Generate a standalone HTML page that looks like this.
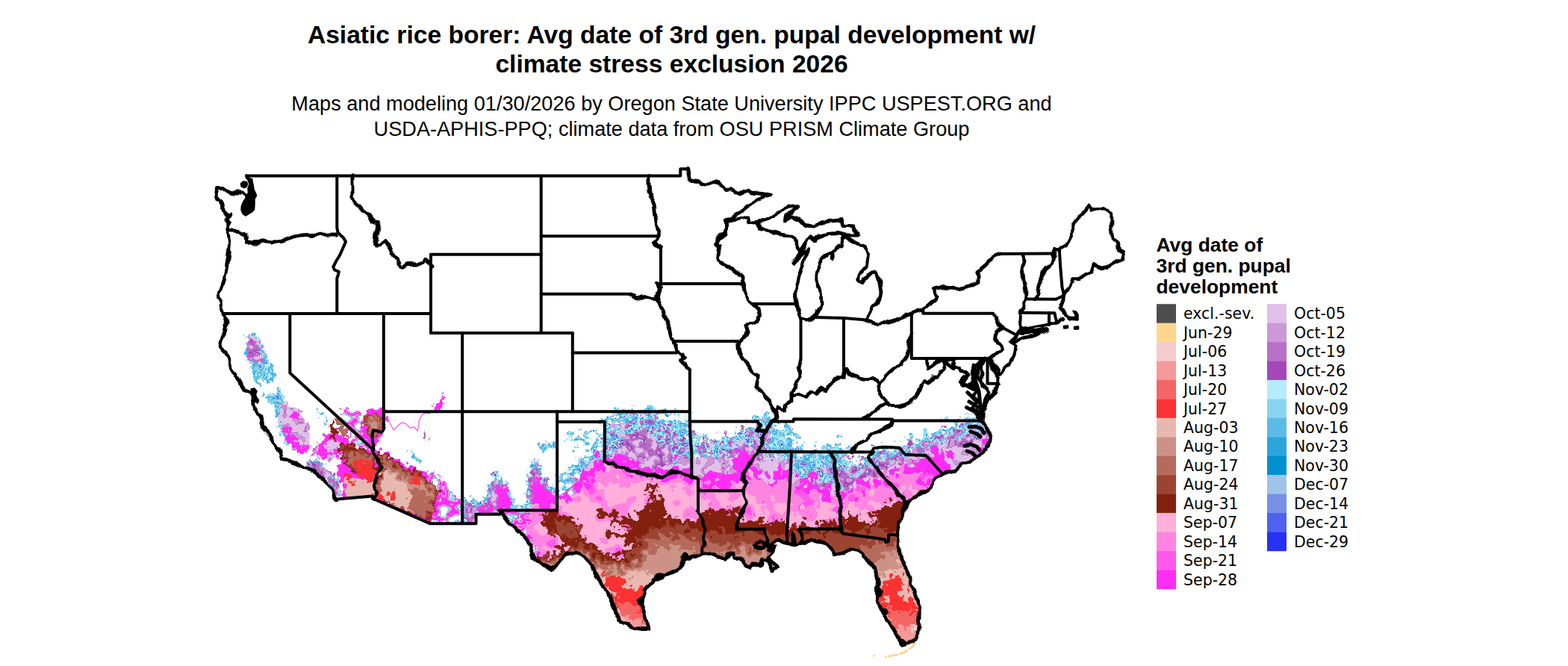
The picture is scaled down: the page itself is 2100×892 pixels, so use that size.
<!DOCTYPE html>
<html><head><meta charset="utf-8"><title>Asiatic rice borer</title>
<style>
html,body{margin:0;padding:0;background:#fff;}
body{width:2100px;height:892px;position:relative;overflow:hidden;font-family:"Liberation Sans",sans-serif;color:#000;}
.t{position:absolute;left:0;width:1799px;text-align:center;white-space:nowrap;}
#t1{top:26.5px;font-size:33.6px;font-weight:bold;line-height:39.4px;}
#t2{top:122.4px;font-size:27.15px;line-height:33.5px;}
#lt{position:absolute;left:1548.5px;top:315.3px;font-size:26.4px;font-weight:bold;line-height:27.8px;white-space:nowrap;}
svg{position:absolute;left:0;top:0;}
.lg{font-family:"DejaVu Sans","Liberation Sans",sans-serif;font-size:20.5px;fill:#000;}
</style></head><body>
<div class="t" id="t1">Asiatic rice borer: Avg date of 3rd gen. pupal development w/<br>climate stress exclusion 2026</div>
<div class="t" id="t2">Maps and modeling 01/30/2026 by Oregon State University IPPC USPEST.ORG and<br>USDA-APHIS-PPQ; climate data from OSU PRISM Climate Group</div>
<div id="lt">Avg date of<br>3rd gen. pupal<br>development</div>
<svg width="2100" height="892" viewBox="0 0 2100 892">
<defs>
<clipPath id="us"><polygon points="301.3,443.8 297.0,452.0 295.0,460.0 297.5,467.5 303.0,473.0 307.5,478.8 309.0,488.0 311.3,497.5 315.0,504.0 320.0,510.0 324.0,517.0 327.5,522.5 333.0,525.0 336.3,526.3 338.0,532.0 338.8,537.5 339.0,543.0 340.0,547.5 345.0,552.0 350.0,556.3 351.0,562.0 350.0,568.8 354.0,575.0 358.8,580.0 364.0,588.0 370.0,595.0 373.0,600.0 375.0,605.0 376.5,611.0 377.5,616.3 386.0,618.0 395.0,620.0 401.0,623.5 407.5,627.5 414.0,629.0 420.0,631.3 425.0,635.0 432.5,642.5 439.0,648.0 445.0,655.0 447.5,662.0 448.8,668.8 498.8,664.5 498.8,667.5 576.3,701.3 637.5,701.3 637.5,688.8 670.0,688.8 670.0,683.8 675.0,690.0 681.0,698.0 687.5,705.0 694.0,711.0 700.0,716.3 705.0,723.0 710.0,730.0 712.5,739.0 715.0,747.5 720.0,751.5 725.0,755.0 731.0,759.0 737.5,762.5 742.0,762.0 745.0,760.0 747.5,755.0 750.0,750.0 753.5,746.0 757.5,742.5 765.0,741.0 772.5,740.0 778.0,742.0 782.5,745.0 787.5,751.0 792.5,757.5 796.0,765.0 800.0,772.5 804.0,780.0 807.5,785.0 813.0,794.0 820.0,802.5 821.5,809.0 822.5,815.0 826.0,823.0 830.0,831.3 837.0,835.0 845.0,838.8 852.0,841.0 860.0,842.5 868.8,842.5 866.5,832.0 864.0,822.0 862.0,816.0 860.4,810.3 857.0,808.0 856.0,803.5 859.5,802.0 862.0,798.5 863.3,795.8 861.9,791.4 865.0,787.5 868.4,784.0 872.5,780.5 876.4,776.8 879.0,775.0 880.0,771.0 884.0,772.5 887.5,769.5 891.0,769.5 896.0,768.0 901.0,766.6 905.5,764.0 910.0,760.8 913.0,756.5 915.8,752.0 914.5,747.0 916.5,742.5 919.5,744.0 920.0,748.5 923.0,749.5 927.4,746.2 933.0,744.0 938.8,742.5 944.5,742.0 950.7,741.9 955.0,743.5 959.5,745.5 965.0,747.0 971.0,748.4 973.5,745.0 975.5,741.9 978.0,741.0 980.6,741.0 981.5,744.0 982.8,747.0 987.0,748.0 991.5,749.0 994.5,752.5 997.3,756.4 1000.0,758.5 1003.2,760.0 1005.5,757.0 1007.5,755.0 1011.0,755.2 1014.8,755.7 1019.2,757.9 1020.5,753.0 1022.0,749.0 1025.0,750.0 1028.0,751.3 1031.0,757.5 1033.8,763.7 1037.5,761.5 1041.0,758.6 1037.5,755.5 1033.8,752.8 1031.5,750.0 1029.4,747.7 1032.0,744.0 1035.2,740.4 1036.5,737.0 1038.0,733.0 1034.0,731.5 1030.0,730.0 1036.0,727.0 1042.5,725.0 1049.0,726.0 1055.0,727.5 1059.0,729.0 1062.5,730.0 1062.0,722.0 1062.5,715.0 1064.0,722.0 1065.0,730.0 1069.0,729.0 1072.5,727.5 1080.0,726.0 1087.5,725.0 1095.0,725.5 1102.5,726.3 1108.0,729.0 1112.5,732.5 1115.5,738.0 1117.5,743.8 1123.0,742.5 1130.0,740.0 1136.0,737.0 1142.5,735.0 1149.0,737.0 1155.0,740.0 1160.0,747.0 1165.0,755.0 1170.0,762.0 1173.8,767.5 1175.5,775.0 1175.0,782.5 1174.0,789.0 1173.8,795.0 1175.5,803.0 1177.5,810.0 1181.0,818.0 1185.0,825.0 1188.5,830.0 1192.5,835.0 1197.5,844.0 1202.5,852.5 1206.0,858.5 1208.8,863.8 1213.0,864.0 1217.5,862.5 1222.0,859.5 1226.3,855.0 1228.5,848.0 1230.0,840.0 1231.0,828.0 1231.3,815.0 1228.5,805.0 1225.0,795.0 1221.5,784.0 1217.5,772.5 1214.0,762.0 1210.0,752.5 1207.0,746.0 1205.0,740.0 1203.5,728.0 1202.5,716.3 1203.5,708.0 1205.0,700.0 1208.5,689.0 1212.5,677.5 1217.5,670.0 1224.0,666.0 1230.0,662.5 1239.0,657.5 1247.5,652.5 1250.5,647.0 1252.5,642.5 1260.0,637.0 1267.5,632.5 1274.0,631.0 1280.0,630.0 1285.0,625.0 1290.0,620.0 1297.0,617.5 1305.0,615.0 1309.0,611.0 1312.5,607.5 1319.0,602.5 1325.0,597.5 1326.0,591.0 1326.3,585.0 1324.5,580.0 1322.5,575.0 1318.5,569.0 1315.0,563.8 1316.0,557.0 1316.3,550.0 1312.0,530.0 1300.0,520.0 1250.0,500.0 330.0,440.0"/></clipPath>
<filter id="fCY" x="-3%" y="-3%" width="106%" height="106%" color-interpolation-filters="sRGB">
<feTurbulence type="fractalNoise" baseFrequency="0.09" numOctaves="3" seed="3" result="d"/>
<feDisplacementMap in="SourceGraphic" in2="d" scale="50" xChannelSelector="R" yChannelSelector="G" result="s"/>
<feTurbulence type="fractalNoise" baseFrequency="0.11" numOctaves="2" seed="8" result="n"/>
<feColorMatrix in="n" type="matrix" values="1 0 0 0 0 1 0 0 0 0 1 0 0 0 0 0 0 0 0 1" result="g"/>
<feComponentTransfer in="g" result="c"><feFuncR type="discrete" tableValues="1 1 1 1 1 1 1 1 1 1 1 1 1 1 1 0.173 0.173 0.706 0.706 0.706 0.706 0.533 0.533 0.533 0.533 0.353 0.353 0.353 0.353 0.173 0.173 0.533 0.533 0.706 0.706 0.706 0.157 0.722 0.722 0.722 0.722 0.722 0.722 0.722 0.722 0.722 0.722 0.722 0.722 0.722"/><feFuncG type="discrete" tableValues="1 1 1 1 1 1 1 1 1 1 1 1 1 1 1 0.643 0.643 0.925 0.925 0.925 0.925 0.831 0.831 0.831 0.831 0.737 0.737 0.737 0.737 0.643 0.643 0.831 0.831 0.925 0.925 0.925 0.188 0.439 0.439 0.439 0.439 0.439 0.439 0.439 0.439 0.439 0.439 0.439 0.439 0.439"/><feFuncB type="discrete" tableValues="1 1 1 1 1 1 1 1 1 1 1 1 1 1 1 0.863 0.863 0.988 0.988 0.988 0.988 0.941 0.941 0.941 0.941 0.894 0.894 0.894 0.894 0.863 0.863 0.941 0.941 0.988 0.988 0.988 0.957 0.784 0.784 0.784 0.784 0.784 0.784 0.784 0.784 0.784 0.784 0.784 0.784 0.784"/></feComponentTransfer>
<feComposite in="c" in2="s" operator="in"/>
</filter>
<filter id="fPU" x="-3%" y="-3%" width="106%" height="106%" color-interpolation-filters="sRGB">
<feTurbulence type="fractalNoise" baseFrequency="0.12" numOctaves="3" seed="11" result="d"/>
<feDisplacementMap in="SourceGraphic" in2="d" scale="60" xChannelSelector="R" yChannelSelector="G" result="s"/>
<feTurbulence type="fractalNoise" baseFrequency="0.1" numOctaves="2" seed="16" result="n"/>
<feColorMatrix in="n" type="matrix" values="1 0 0 0 0 1 0 0 0 0 1 0 0 0 0 0 0 0 0 1" result="g"/>
<feComponentTransfer in="g" result="c"><feFuncR type="discrete" tableValues="0.878 0.878 0.878 0.878 0.878 0.878 0.878 0.878 0.878 0.878 0.878 0.878 0.878 0.878 0.878 0.878 0.878 0.878 0.8 0.8 0.8 0.8 0.722 0.722 0.722 0.722 0.722 0.722 0.722 0.722 0.643 0.643 0.643 0.643 0.643 0.8 0.8 0.8 0.8 0.8 0.8 0.8 0.8 0.8 0.8 0.8 0.8 0.8 0.8 0.8"/><feFuncG type="discrete" tableValues="0.753 0.753 0.753 0.753 0.753 0.753 0.753 0.753 0.753 0.753 0.753 0.753 0.753 0.753 0.753 0.753 0.753 0.753 0.596 0.596 0.596 0.596 0.439 0.439 0.439 0.439 0.439 0.439 0.439 0.439 0.282 0.282 0.282 0.282 0.282 0.596 0.596 0.596 0.596 0.596 0.596 0.596 0.596 0.596 0.596 0.596 0.596 0.596 0.596 0.596"/><feFuncB type="discrete" tableValues="0.91 0.91 0.91 0.91 0.91 0.91 0.91 0.91 0.91 0.91 0.91 0.91 0.91 0.91 0.91 0.91 0.91 0.91 0.847 0.847 0.847 0.847 0.784 0.784 0.784 0.784 0.784 0.784 0.784 0.784 0.722 0.722 0.722 0.722 0.722 0.847 0.847 0.847 0.847 0.847 0.847 0.847 0.847 0.847 0.847 0.847 0.847 0.847 0.847 0.847"/></feComponentTransfer>
<feComposite in="c" in2="s" operator="in"/>
</filter>
<filter id="fP2" x="-3%" y="-3%" width="106%" height="106%" color-interpolation-filters="sRGB">
<feTurbulence type="fractalNoise" baseFrequency="0.07" numOctaves="3" seed="21" result="d"/>
<feDisplacementMap in="SourceGraphic" in2="d" scale="45" xChannelSelector="R" yChannelSelector="G" result="s"/>
<feTurbulence type="fractalNoise" baseFrequency="0.045" numOctaves="2" seed="26" result="n"/>
<feColorMatrix in="n" type="matrix" values="1 0 0 0 0 1 0 0 0 0 1 0 0 0 0 0 0 0 0 1" result="g"/>
<feComponentTransfer in="g" result="c"><feFuncR type="discrete" tableValues="1 1 1 1 1 1 1 1 1 1 1 1 1 1 1 1 1 1 1 1 1 1 1 1 1 1 1 1 1 1 1 1 1 1 1 1 1 1 1 1 1 1 1 1 1 1 1 1 1 1"/><feFuncG type="discrete" tableValues="0.345 0.345 0.345 0.345 0.345 0.345 0.345 0.345 0.345 0.345 0.345 0.345 0.345 0.345 0.345 0.345 0.345 0.345 0.518 0.518 0.518 0.518 0.518 0.518 0.518 0.518 0.518 0.518 0.518 0.518 0.518 0.518 0.518 0.69 0.69 0.69 0.69 0.69 0.69 0.69 0.69 0.69 0.69 0.69 0.69 0.69 0.69 0.69 0.69 0.69"/><feFuncB type="discrete" tableValues="0.925 0.925 0.925 0.925 0.925 0.925 0.925 0.925 0.925 0.925 0.925 0.925 0.925 0.925 0.925 0.925 0.925 0.925 0.886 0.886 0.886 0.886 0.886 0.886 0.886 0.886 0.886 0.886 0.886 0.886 0.886 0.886 0.886 0.855 0.855 0.855 0.855 0.855 0.855 0.855 0.855 0.855 0.855 0.855 0.855 0.855 0.855 0.855 0.855 0.855"/></feComponentTransfer>
<feComposite in="c" in2="s" operator="in"/>
</filter>
<filter id="fP1" x="-3%" y="-3%" width="106%" height="106%" color-interpolation-filters="sRGB">
<feTurbulence type="fractalNoise" baseFrequency="0.07" numOctaves="3" seed="31" result="d"/>
<feDisplacementMap in="SourceGraphic" in2="d" scale="55" xChannelSelector="R" yChannelSelector="G" result="s"/>
<feTurbulence type="fractalNoise" baseFrequency="0.04" numOctaves="2" seed="36" result="n"/>
<feColorMatrix in="n" type="matrix" values="1 0 0 0 0 1 0 0 0 0 1 0 0 0 0 0 0 0 0 1" result="g"/>
<feComponentTransfer in="g" result="c"><feFuncR type="discrete" tableValues="1 1 1 1 1 1 1 1 1 1 1 1 1 1 1 1 1 1 1 1 1 1 1 1 1 1 1 1 1 1 1 1 1 1 1 1 1 1 1 1 1 1 1 1 1 1 1 1 1 1"/><feFuncG type="discrete" tableValues="0.345 0.345 0.345 0.345 0.345 0.345 0.345 0.345 0.345 0.345 0.345 0.345 0.345 0.345 0.345 0.518 0.518 0.518 0.518 0.518 0.518 0.518 0.69 0.69 0.69 0.69 0.69 0.69 0.69 0.69 0.69 0.69 0.69 0.69 0.69 0.69 0.69 0.69 0.69 0.69 0.69 0.69 0.69 0.69 0.69 0.69 0.69 0.69 0.69 0.69"/><feFuncB type="discrete" tableValues="0.925 0.925 0.925 0.925 0.925 0.925 0.925 0.925 0.925 0.925 0.925 0.925 0.925 0.925 0.925 0.886 0.886 0.886 0.886 0.886 0.886 0.886 0.855 0.855 0.855 0.855 0.855 0.855 0.855 0.855 0.855 0.855 0.855 0.855 0.855 0.855 0.855 0.855 0.855 0.855 0.855 0.855 0.855 0.855 0.855 0.855 0.855 0.855 0.855 0.855"/></feComponentTransfer>
<feComposite in="c" in2="s" operator="in"/>
</filter>
<filter id="fCYw" x="-3%" y="-3%" width="106%" height="106%" color-interpolation-filters="sRGB">
<feTurbulence type="fractalNoise" baseFrequency="0.13" numOctaves="3" seed="4" result="d"/>
<feDisplacementMap in="SourceGraphic" in2="d" scale="20" xChannelSelector="R" yChannelSelector="G" result="s"/>
<feTurbulence type="fractalNoise" baseFrequency="0.13" numOctaves="2" seed="9" result="n"/>
<feColorMatrix in="n" type="matrix" values="1 0 0 0 0 1 0 0 0 0 1 0 0 0 0 0 0 0 0 1" result="g"/>
<feComponentTransfer in="g" result="c"><feFuncR type="discrete" tableValues="1 1 1 1 1 1 1 1 1 1 1 1 1 1 1 0.173 0.173 0.706 0.706 0.706 0.706 0.533 0.533 0.533 0.533 0.353 0.353 0.353 0.353 0.173 0.173 0.533 0.533 0.706 0.706 0.706 0.157 0.722 0.722 0.722 0.722 0.722 0.722 0.722 0.722 0.722 0.722 0.722 0.722 0.722"/><feFuncG type="discrete" tableValues="1 1 1 1 1 1 1 1 1 1 1 1 1 1 1 0.643 0.643 0.925 0.925 0.925 0.925 0.831 0.831 0.831 0.831 0.737 0.737 0.737 0.737 0.643 0.643 0.831 0.831 0.925 0.925 0.925 0.188 0.439 0.439 0.439 0.439 0.439 0.439 0.439 0.439 0.439 0.439 0.439 0.439 0.439"/><feFuncB type="discrete" tableValues="1 1 1 1 1 1 1 1 1 1 1 1 1 1 1 0.863 0.863 0.988 0.988 0.988 0.988 0.941 0.941 0.941 0.941 0.894 0.894 0.894 0.894 0.863 0.863 0.941 0.941 0.988 0.988 0.988 0.957 0.784 0.784 0.784 0.784 0.784 0.784 0.784 0.784 0.784 0.784 0.784 0.784 0.784"/></feComponentTransfer>
<feComposite in="c" in2="s" operator="in"/>
</filter>
<filter id="fPUw" x="-3%" y="-3%" width="106%" height="106%" color-interpolation-filters="sRGB">
<feTurbulence type="fractalNoise" baseFrequency="0.13" numOctaves="3" seed="12" result="d"/>
<feDisplacementMap in="SourceGraphic" in2="d" scale="20" xChannelSelector="R" yChannelSelector="G" result="s"/>
<feTurbulence type="fractalNoise" baseFrequency="0.12" numOctaves="2" seed="17" result="n"/>
<feColorMatrix in="n" type="matrix" values="1 0 0 0 0 1 0 0 0 0 1 0 0 0 0 0 0 0 0 1" result="g"/>
<feComponentTransfer in="g" result="c"><feFuncR type="discrete" tableValues="0.878 0.878 0.878 0.878 0.878 0.878 0.878 0.878 0.878 0.878 0.878 0.878 0.878 0.878 0.878 0.878 0.878 0.878 0.8 0.8 0.8 0.8 0.722 0.722 0.722 0.722 0.722 0.722 0.722 0.722 0.643 0.643 0.643 0.643 0.643 0.8 0.8 0.8 0.8 0.8 0.8 0.8 0.8 0.8 0.8 0.8 0.8 0.8 0.8 0.8"/><feFuncG type="discrete" tableValues="0.753 0.753 0.753 0.753 0.753 0.753 0.753 0.753 0.753 0.753 0.753 0.753 0.753 0.753 0.753 0.753 0.753 0.753 0.596 0.596 0.596 0.596 0.439 0.439 0.439 0.439 0.439 0.439 0.439 0.439 0.282 0.282 0.282 0.282 0.282 0.596 0.596 0.596 0.596 0.596 0.596 0.596 0.596 0.596 0.596 0.596 0.596 0.596 0.596 0.596"/><feFuncB type="discrete" tableValues="0.91 0.91 0.91 0.91 0.91 0.91 0.91 0.91 0.91 0.91 0.91 0.91 0.91 0.91 0.91 0.91 0.91 0.91 0.847 0.847 0.847 0.847 0.784 0.784 0.784 0.784 0.784 0.784 0.784 0.784 0.722 0.722 0.722 0.722 0.722 0.847 0.847 0.847 0.847 0.847 0.847 0.847 0.847 0.847 0.847 0.847 0.847 0.847 0.847 0.847"/></feComponentTransfer>
<feComposite in="c" in2="s" operator="in"/>
</filter>
<filter id="fRw" x="-3%" y="-3%" width="106%" height="106%" color-interpolation-filters="sRGB">
<feTurbulence type="fractalNoise" baseFrequency="0.13" numOctaves="3" seed="42" result="d"/>
<feDisplacementMap in="SourceGraphic" in2="d" scale="20" xChannelSelector="R" yChannelSelector="G"/>
</filter>
<filter id="fLVw" x="-3%" y="-3%" width="106%" height="106%" color-interpolation-filters="sRGB">
<feTurbulence type="fractalNoise" baseFrequency="0.13" numOctaves="3" seed="18" result="d"/>
<feDisplacementMap in="SourceGraphic" in2="d" scale="20" xChannelSelector="R" yChannelSelector="G" result="s"/>
<feTurbulence type="fractalNoise" baseFrequency="0.1" numOctaves="2" seed="23" result="n"/>
<feColorMatrix in="n" type="matrix" values="1 0 0 0 0 1 0 0 0 0 1 0 0 0 0 0 0 0 0 1" result="g"/>
<feComponentTransfer in="g" result="c"><feFuncR type="discrete" tableValues="0.8 0.8 0.8 0.8 0.8 0.8 0.8 0.8 0.8 0.8 0.8 0.8 0.8 0.8 0.8 0.8 0.8 0.8 0.8 0.8 0.722 0.722 0.722 0.878 0.878 0.878 0.878 0.878 0.878 0.878 0.878 0.878 0.878 0.878 0.878 0.878 0.878 0.878 0.878 0.878 0.878 0.878 0.878 0.878 0.878 0.878 0.878 0.878 0.878 0.878"/><feFuncG type="discrete" tableValues="0.596 0.596 0.596 0.596 0.596 0.596 0.596 0.596 0.596 0.596 0.596 0.596 0.596 0.596 0.596 0.596 0.596 0.596 0.596 0.596 0.439 0.439 0.439 0.753 0.753 0.753 0.753 0.753 0.753 0.753 0.753 0.753 0.753 0.753 0.753 0.753 0.753 0.753 0.753 0.753 0.753 0.753 0.753 0.753 0.753 0.753 0.753 0.753 0.753 0.753"/><feFuncB type="discrete" tableValues="0.847 0.847 0.847 0.847 0.847 0.847 0.847 0.847 0.847 0.847 0.847 0.847 0.847 0.847 0.847 0.847 0.847 0.847 0.847 0.847 0.784 0.784 0.784 0.91 0.91 0.91 0.91 0.91 0.91 0.91 0.91 0.91 0.91 0.91 0.91 0.91 0.91 0.91 0.91 0.91 0.91 0.91 0.91 0.91 0.91 0.91 0.91 0.91 0.91 0.91"/></feComponentTransfer>
<feComposite in="c" in2="s" operator="in"/>
</filter>
<filter id="fBw" x="-3%" y="-3%" width="106%" height="106%" color-interpolation-filters="sRGB">
<feTurbulence type="fractalNoise" baseFrequency="0.13" numOctaves="3" seed="52" result="d"/>
<feDisplacementMap in="SourceGraphic" in2="d" scale="20" xChannelSelector="R" yChannelSelector="G"/>
</filter>
<filter id="fSTw" x="-3%" y="-3%" width="106%" height="106%" color-interpolation-filters="sRGB">
<feTurbulence type="fractalNoise" baseFrequency="0.13" numOctaves="3" seed="14" result="d"/>
<feDisplacementMap in="SourceGraphic" in2="d" scale="20" xChannelSelector="R" yChannelSelector="G" result="s"/>
<feTurbulence type="fractalNoise" baseFrequency="0.09" numOctaves="1" seed="19" result="n"/>
<feColorMatrix in="n" type="matrix" values="1 0 0 0 0 1 0 0 0 0 1 0 0 0 0 0 0 0 0 1" result="g"/>
<feComponentTransfer in="g" result="c"><feFuncR type="discrete" tableValues="1 1 1 1 1 1 1 1 1 1 1 1 1 1 1 1 1 1 0.353 0.706 0.706 0.722 0.722 0.878 0.878 1 1 1 1 1 1 1 1 1 1 0.878 0.706 0.706 1 1 1 1 1 1 1 1 1 1 1 1"/><feFuncG type="discrete" tableValues="1 1 1 1 1 1 1 1 1 1 1 1 1 1 1 1 1 1 0.737 0.925 0.925 0.439 0.439 0.753 0.753 0.173 0.173 0.173 0.173 0.173 0.518 0.518 0.518 0.173 0.173 0.753 0.925 0.925 1 1 1 1 1 1 1 1 1 1 1 1"/><feFuncB type="discrete" tableValues="1 1 1 1 1 1 1 1 1 1 1 1 1 1 1 1 1 1 0.894 0.988 0.988 0.784 0.784 0.91 0.91 0.965 0.965 0.965 0.965 0.965 0.886 0.886 0.886 0.965 0.965 0.91 0.988 0.988 1 1 1 1 1 1 1 1 1 1 1 1"/></feComponentTransfer>
<feComposite in="c" in2="s" operator="in"/>
</filter>
<filter id="fCYs" x="-3%" y="-3%" width="106%" height="106%" color-interpolation-filters="sRGB">
<feTurbulence type="fractalNoise" baseFrequency="0.09" numOctaves="3" seed="8" result="d"/>
<feDisplacementMap in="SourceGraphic" in2="d" scale="50" xChannelSelector="R" yChannelSelector="G" result="s"/>
<feTurbulence type="fractalNoise" baseFrequency="0.11" numOctaves="2" seed="13" result="n"/>
<feColorMatrix in="n" type="matrix" values="1 0 0 0 0 1 0 0 0 0 1 0 0 0 0 1 0 0 0 0" result="g"/>
<feComponentTransfer in="g" result="c"><feFuncR type="discrete" tableValues="1 1 1 1 1 1 1 1 1 1 1 1 1 1 1 1 1 1 1 1 0.173 0.706 0.706 0.706 0.706 0.533 0.533 0.353 0.353 0.157 1 1 1 1 1 1 1 1 1 1 1 1 1 1 1 1 1 1 1 1"/><feFuncG type="discrete" tableValues="1 1 1 1 1 1 1 1 1 1 1 1 1 1 1 1 1 1 1 1 0.643 0.925 0.925 0.925 0.925 0.831 0.831 0.737 0.737 0.188 1 1 1 1 1 1 1 1 1 1 1 1 1 1 1 1 1 1 1 1"/><feFuncB type="discrete" tableValues="1 1 1 1 1 1 1 1 1 1 1 1 1 1 1 1 1 1 1 1 0.863 0.988 0.988 0.988 0.988 0.941 0.941 0.894 0.894 0.957 1 1 1 1 1 1 1 1 1 1 1 1 1 1 1 1 1 1 1 1"/><feFuncA type="discrete" tableValues="0 0 0 0 0 0 0 0 0 0 0 0 0 0 0 0 0 0 0 0 1 1 1 1 1 1 1 1 1 1 0 0 0 0 0 0 0 0 0 0 0 0 0 0 0 0 0 0 0 0"/></feComponentTransfer>
<feComposite in="c" in2="s" operator="in"/>
</filter>
<filter id="fLV" x="-3%" y="-3%" width="106%" height="106%" color-interpolation-filters="sRGB">
<feTurbulence type="fractalNoise" baseFrequency="0.07" numOctaves="3" seed="17" result="d"/>
<feDisplacementMap in="SourceGraphic" in2="d" scale="45" xChannelSelector="R" yChannelSelector="G" result="s"/>
<feTurbulence type="fractalNoise" baseFrequency="0.09" numOctaves="2" seed="22" result="n"/>
<feColorMatrix in="n" type="matrix" values="1 0 0 0 0 1 0 0 0 0 1 0 0 0 0 0 0 0 0 1" result="g"/>
<feComponentTransfer in="g" result="c"><feFuncR type="discrete" tableValues="0.8 0.8 0.8 0.8 0.8 0.8 0.8 0.8 0.8 0.8 0.8 0.8 0.8 0.8 0.8 0.8 0.8 0.8 0.8 0.8 0.8 0.722 0.722 0.878 0.878 0.878 0.878 0.878 0.878 0.878 0.878 0.878 0.878 0.878 0.878 0.878 0.878 0.878 0.878 0.878 0.878 0.878 0.878 0.878 0.878 0.878 0.878 0.878 0.878 0.878"/><feFuncG type="discrete" tableValues="0.596 0.596 0.596 0.596 0.596 0.596 0.596 0.596 0.596 0.596 0.596 0.596 0.596 0.596 0.596 0.596 0.596 0.596 0.596 0.596 0.596 0.439 0.439 0.753 0.753 0.753 0.753 0.753 0.753 0.753 0.753 0.753 0.753 0.753 0.753 0.753 0.753 0.753 0.753 0.753 0.753 0.753 0.753 0.753 0.753 0.753 0.753 0.753 0.753 0.753"/><feFuncB type="discrete" tableValues="0.847 0.847 0.847 0.847 0.847 0.847 0.847 0.847 0.847 0.847 0.847 0.847 0.847 0.847 0.847 0.847 0.847 0.847 0.847 0.847 0.847 0.784 0.784 0.91 0.91 0.91 0.91 0.91 0.91 0.91 0.91 0.91 0.91 0.91 0.91 0.91 0.91 0.91 0.91 0.91 0.91 0.91 0.91 0.91 0.91 0.91 0.91 0.91 0.91 0.91"/></feComponentTransfer>
<feComposite in="c" in2="s" operator="in"/>
</filter>
<filter id="fR" x="-3%" y="-3%" width="106%" height="106%" color-interpolation-filters="sRGB">
<feTurbulence type="fractalNoise" baseFrequency="0.07" numOctaves="3" seed="41" result="d"/>
<feDisplacementMap in="SourceGraphic" in2="d" scale="45" xChannelSelector="R" yChannelSelector="G"/>
</filter>
<filter id="fB" x="-3%" y="-3%" width="106%" height="106%" color-interpolation-filters="sRGB">
<feTurbulence type="fractalNoise" baseFrequency="0.11" numOctaves="3" seed="51" result="d"/>
<feDisplacementMap in="SourceGraphic" in2="d" scale="32" xChannelSelector="R" yChannelSelector="G"/>
</filter>
</defs>
<g clip-path="url(#us)">
<g filter="url(#fCY)" fill="#88D4F0">
<polygon points="810.0,562.0 814.0,556.0 841.0,548.4 874.5,548.4 900.0,557.0 922.0,562.0 925.0,588.8 958.6,590.5 984.0,585.4 1000.7,570.3 1017.5,558.5 1025.0,555.0 1033.6,562.0 1033.6,568.6 1062.0,572.0 1065.6,597.0 1066.0,604.0 1104.0,603.0 1117.7,597.0 1129.5,592.0 1133.0,604.0 1134.5,622.4 1159.8,619.0 1164.8,612.3 1168.0,607.0 1180.0,600.5 1205.0,600.0 1203.5,593.8 1227.0,588.8 1248.9,583.7 1252.3,577.0 1269.0,573.6 1272.5,565.2 1294.3,568.6 1301.0,553.5 1318.0,549.0 1318.0,700.0 810.0,700.0"/>
<polygon points="757.0,592.0 765.0,586.0 779.0,580.0 795.0,578.0 809.0,580.0 809.0,592.0 800.0,596.0 797.0,590.0 785.0,587.0 772.0,591.0 762.0,596.0"/>
<polygon points="746.5,640.0 760.0,631.0 775.0,621.0 788.0,611.0 799.0,598.0 809.0,592.0 812.0,610.0 800.0,625.0 780.0,645.0 760.0,660.0 746.5,668.0"/>
</g>
<g filter="url(#fCYw)" fill="#88D4F0">
<polygon points="718.0,597.0 726.0,592.0 738.0,593.0 746.0,596.0 746.0,603.0 736.0,601.0 727.0,603.0"/>
<polygon points="746.3,650.0 740.0,651.0 733.0,647.0 727.0,634.0 722.0,622.0 717.0,611.0 712.0,620.0 707.0,633.0 705.0,645.0 706.0,660.0 708.0,670.0 712.0,683.8 746.3,683.8"/>
<polygon points="620.0,663.0 628.0,668.0 636.0,674.0 645.0,671.0 651.0,667.0 653.0,655.0 657.0,645.0 664.0,633.0 670.0,640.0 676.0,646.0 681.0,652.0 685.0,662.0 688.0,674.0 695.0,677.0 701.0,678.0 705.0,672.0 708.0,668.0 710.0,683.8 670.0,683.8 670.0,689.0 637.5,689.0 637.5,701.0 620.0,701.0"/>
<polygon points="672.0,686.0 690.0,698.0 705.0,713.0 716.0,733.0 724.0,752.0 740.0,760.0 745.0,757.0 730.0,745.0 722.0,728.0 712.0,710.0 698.0,696.0 684.0,686.0"/>
<polygon points="335.2,482.0 336.0,491.0 338.6,498.9 341.0,507.0 345.3,515.7 350.0,512.0 353.7,510.6 360.0,512.0 367.2,510.6 366.0,500.0 363.8,490.5 360.0,485.0 355.4,480.4 347.0,480.4 341.0,484.0"/>
<polygon points="350.4,525.8 355.0,533.0 360.5,541.0 365.0,549.0 370.5,557.7 373.0,566.0 376.0,577.0 380.0,587.0 385.0,595.0 390.0,590.0 384.0,570.0 385.7,551.0 384.0,542.0 382.3,534.2 378.0,528.0 373.9,524.1 363.8,525.8 357.0,523.0"/>
<polygon points="337.7,446.0 330.0,456.0 328.0,466.0 330.0,477.0 334.0,484.0 344.0,489.0 353.0,488.0 359.0,484.0 355.0,476.0 352.0,469.0 350.0,461.0 349.0,454.0 343.0,448.0"/>
<polygon points="570.0,632.0 582.0,637.0 594.0,648.0 603.0,658.0 612.0,665.0 620.0,672.0 620.0,695.0 612.0,699.0 598.0,693.0 589.0,682.0 587.0,668.0 583.0,656.0 575.0,646.0"/>
<polygon points="548.0,606.0 553.0,604.0 560.0,612.0 563.0,622.0 558.0,618.0 552.0,612.0"/>
<polygon points="412.0,618.0 422.0,615.0 433.0,621.0 442.0,630.0 450.0,638.0 457.0,649.0 458.0,664.0 449.0,668.0 444.0,656.0 438.0,648.0 430.0,642.0 422.0,636.0 414.0,630.0"/>
<polygon points="425.5,550.0 428.0,549.0 441.0,567.0 439.0,569.0"/>
</g>
<g filter="url(#fPU)" fill="#B870C8">
<polygon points="746.5,668.0 760.0,658.0 775.0,645.0 790.0,628.0 800.0,612.0 810.0,600.0 814.0,595.5 834.0,565.0 845.0,558.0 857.7,556.8 875.0,563.0 891.4,573.6 908.2,587.1 923.3,590.5 928.4,593.8 975.5,595.5 992.3,587.1 1009.0,577.0 1022.0,567.0 1026.0,575.0 1025.2,587.0 1027.0,607.3 1058.9,614.0 1063.9,634.2 1094.2,634.2 1109.3,627.5 1121.0,619.0 1134.5,624.0 1159.8,624.0 1168.0,612.3 1185.0,614.0 1210.0,607.3 1213.6,598.9 1235.5,593.8 1252.3,587.0 1277.5,578.7 1299.4,575.3 1319.5,573.6 1332.0,573.0 1332.0,720.0 746.5,720.0"/>
</g>
<g filter="url(#fPUw)" fill="#B870C8">
<polygon points="713.0,683.8 709.0,668.0 708.0,652.0 711.0,636.0 717.0,620.0 722.0,632.0 727.0,642.0 733.0,652.0 746.3,657.0 746.3,683.8"/>
<polygon points="640.0,684.0 646.0,676.0 652.0,671.0 656.0,656.0 660.0,646.0 664.0,640.0 670.0,646.0 677.0,654.0 682.0,664.0 686.0,683.8 670.0,683.8 670.0,689.0 637.5,689.0 637.5,701.0 624.0,701.0 624.0,670.0 632.0,674.0"/>
<polygon points="337.7,448.4 332.0,456.0 330.2,465.2 332.0,475.0 335.2,482.0 343.6,487.0 352.0,486.0 357.0,483.7 353.0,476.0 350.4,470.3 348.0,462.0 347.0,455.0 342.0,450.0"/>
<polygon points="414.0,620.0 422.0,618.0 432.0,624.0 440.0,632.0 448.0,640.0 454.0,650.0 455.0,662.0 450.0,666.0 446.0,655.0 440.0,646.0 432.0,640.0 424.0,634.0 416.0,628.0"/>
<polygon points="566.0,578.0 569.0,576.0 572.0,583.0 573.0,590.0 569.0,588.0"/>
<polygon points="676.0,690.0 690.0,701.0 703.0,714.0 713.0,733.0 720.0,748.0 716.0,749.0 706.0,733.0 696.0,716.0 684.0,703.0"/>
</g>
<g filter="url(#fCYs)" fill="#88D4F0">
<polygon points="810.0,600.0 814.0,595.5 834.0,565.0 845.0,558.0 857.7,556.8 875.0,563.0 891.4,573.6 908.2,587.1 923.3,590.5 928.4,593.8 975.5,595.5 992.3,587.1 1009.0,577.0 1022.0,567.0 1026.0,575.0 1025.2,587.0 1027.0,607.3 1058.9,614.0 1063.9,634.2 1094.2,634.2 1109.3,627.5 1121.0,619.0 1134.5,624.0 1159.8,624.0 1168.0,612.3 1185.0,614.0 1210.0,607.3 1213.6,598.9 1235.5,593.8 1252.3,587.0 1277.5,578.7 1299.4,575.3 1319.5,573.6 1332.0,573.0 1332.0,579.0 1319.5,579.6 1299.4,581.3 1277.5,584.7 1252.3,593.0 1235.5,599.8 1213.6,604.9 1210.0,613.3 1185.0,620.0 1168.0,618.3 1159.8,630.0 1134.5,630.0 1121.0,625.0 1109.3,633.5 1094.2,648.2 1063.9,648.2 1058.9,628.0 1027.0,621.3 1025.2,601.0 1026.0,589.0 1022.0,581.0 1009.0,591.0 992.3,601.1 975.5,609.5 928.4,615.8 923.3,612.5 908.2,609.1 891.4,595.6 875.0,585.0 857.7,578.8 845.0,580.0 834.0,587.0 814.0,617.5 810.0,622.0"/>
</g>
<g filter="url(#fCY)" fill="#88D4F0">
<polygon points="905.0,612.0 915.0,607.0 930.0,606.0 945.0,608.0 958.0,612.0 964.0,620.0 955.0,627.0 940.0,626.0 925.0,624.0 912.0,622.0"/>
<polygon points="1104.0,652.0 1108.0,642.0 1116.0,636.0 1124.0,634.0 1128.0,638.0 1122.0,646.0 1114.0,654.0 1108.0,656.0"/>
<polygon points="1066.0,606.0 1100.0,606.0 1103.0,612.0 1098.0,622.0 1090.0,630.0 1075.0,632.0 1066.0,628.0"/>
</g>
<g filter="url(#fLV)" fill="#E0C0E8">
<polygon points="746.5,672.0 773.6,647.0 790.5,627.0 810.6,609.0 841.0,611.5 866.0,620.0 891.4,618.5 908.0,612.0 925.0,614.0 967.0,614.0 992.3,608.0 1000.0,599.0 1010.0,614.0 1016.8,629.0 1030.0,635.0 1038.0,625.0 1042.0,614.0 1055.5,619.0 1063.9,639.3 1084.0,637.6 1100.9,649.4 1117.7,657.8 1134.5,656.0 1151.4,644.3 1168.2,635.9 1185.0,629.0 1201.8,619.0 1218.6,614.0 1235.5,607.3 1248.9,595.5 1262.0,597.0 1275.0,600.0 1290.0,598.0 1305.0,596.0 1320.0,586.0 1332.0,584.0 1332.0,720.0 746.5,720.0"/>
</g>
<g filter="url(#fLVw)" fill="#E0C0E8">
<polygon points="375.6,544.3 374.0,555.0 373.9,564.5 377.0,575.0 380.6,584.6 385.0,592.0 392.0,600.0 400.0,606.0 410.0,607.0 416.0,600.0 414.0,585.0 412.6,567.8 408.0,560.0 404.2,554.4 397.0,548.0 390.7,544.3 386.0,538.0 382.3,535.9"/>
<polygon points="421.0,598.0 430.0,594.0 440.0,596.0 448.0,602.0 452.0,610.0 446.0,616.0 436.0,616.0 428.0,612.0 420.0,606.0"/>
</g>
<g filter="url(#fR)" fill="#FF2CF6">
<polygon points="746.5,676.0 773.6,652.0 786.0,637.0 788.0,620.0 810.6,611.0 827.5,611.0 847.6,616.0 864.5,625.0 891.4,625.0 908.2,628.0 925.0,634.2 950.2,639.2 975.5,630.8 983.9,610.6 988.9,602.2 1000.0,604.0 1010.0,619.0 1016.8,634.0 1030.0,640.0 1038.0,630.0 1042.0,619.0 1055.5,624.0 1063.9,644.3 1084.0,642.6 1100.9,654.4 1117.7,662.8 1134.5,661.0 1151.4,649.3 1168.2,640.9 1185.0,634.0 1201.8,624.0 1218.6,619.0 1235.5,612.3 1248.9,600.5 1262.4,602.2 1269.0,613.0 1276.0,622.0 1284.0,634.0 1284.0,720.0 746.5,720.0"/>
</g>
<g filter="url(#fRw)" fill="#FF2CF6">
<polygon points="713.0,683.8 712.0,660.0 714.0,645.0 718.0,636.0 722.0,645.0 728.0,655.0 737.0,660.0 746.3,664.0 746.3,683.8"/>
<polygon points="662.0,683.8 664.0,665.0 668.0,652.0 672.0,648.0 678.0,656.0 683.0,668.0 686.0,683.8"/>
<polygon points="640.0,684.0 645.0,678.0 655.0,676.0 662.0,683.0 655.0,689.0 640.0,689.0"/>
<polygon points="392.0,551.0 400.0,553.0 404.0,560.0 402.0,565.0 395.0,563.0 391.0,557.0"/>
<polygon points="380.6,571.0 386.0,574.0 392.0,582.0 398.0,592.0 408.0,598.0 414.0,604.0 405.0,607.0 395.0,603.0 387.0,595.0 382.0,585.0"/>
<polygon points="335.0,456.0 339.0,455.0 340.0,460.0 336.0,461.0"/>
<polygon points="334.0,473.0 338.0,472.0 339.0,477.0 335.0,478.0"/>
<polygon points="432.0,590.0 438.0,580.0 448.0,577.0 458.0,580.0 466.0,588.0 470.0,598.0 462.0,606.0 450.0,610.0 440.0,612.0 430.0,612.0 421.0,606.0 426.0,598.0"/>
<polygon points="486.0,554.0 500.0,549.0 511.0,547.0 518.0,553.0 516.0,566.0 511.0,580.0 507.0,590.0 499.0,598.0 493.0,594.0 488.0,586.0 484.0,576.0 482.0,566.0"/>
<polygon points="578.0,549.0 584.0,542.0 589.0,535.0 592.0,527.0 594.0,536.0 592.0,546.0 585.0,550.0"/>
<polygon points="499.0,602.0 503.0,603.0 520.0,608.0 535.0,618.0 552.0,627.0 566.0,632.0 575.0,639.0 589.0,655.0 590.0,664.0 587.0,689.0 577.0,703.0 498.0,669.0 458.0,670.0 457.0,650.0 452.0,630.0 454.0,612.0 470.0,603.0"/>
</g>
<g filter="url(#fR)" fill="#FF2CF6">
<polygon points="1303.0,612.0 1312.0,600.0 1322.0,591.0 1332.0,588.0 1332.0,606.0 1318.0,616.0"/>
</g>
<g filter="url(#fR)" fill="#E0C0E8">
<polygon points="1024.0,615.0 1040.0,614.0 1042.0,630.0 1036.0,645.0 1026.0,647.0 1020.0,632.0"/>
</g>
<g filter="url(#fRw)" fill="#E0C0E8">
<polygon points="436.0,592.0 446.0,588.0 456.0,592.0 458.0,600.0 448.0,605.0 438.0,604.0"/>
<polygon points="690.0,703.0 700.0,712.0 708.0,726.0 714.0,740.0 711.0,741.0 703.0,727.0 695.0,715.0"/>
</g>
<g filter="url(#fSTw)" fill="#FF2CF6">
<polygon points="570.0,632.0 582.0,637.0 594.0,648.0 603.0,658.0 612.0,665.0 620.0,672.0 620.0,697.0 610.0,701.0 577.0,701.0 589.0,682.0 587.0,668.0 583.0,656.0 575.0,646.0"/>
<polygon points="670.0,684.0 725.0,684.0 735.0,700.0 740.0,720.0 745.0,750.0 738.0,760.0 724.0,754.0 712.0,732.0 700.0,716.0 686.0,703.0"/>
<polygon points="457.0,547.0 470.0,549.0 484.0,554.0 482.0,566.0 484.0,576.0 488.0,586.0 493.0,594.0 499.0,598.0 490.0,602.0 478.0,598.0 470.0,588.0 464.0,574.0 458.0,560.0"/>
</g>
<g filter="url(#fCYw)" fill="#88D4F0">
<polygon points="716.0,712.0 724.0,710.0 730.0,716.0 731.0,726.0 726.0,732.0 719.0,730.0 715.0,722.0"/>
</g>
<g filter="url(#fRw)" fill="#FFFFFF">
<polygon points="719.0,716.0 725.0,715.0 727.0,722.0 724.0,727.0 720.0,724.0"/>
</g>
<g filter="url(#fP2)" fill="#FF84E2">
<polygon points="746.5,682.0 750.0,678.0 782.0,657.0 795.5,633.0 810.6,621.0 841.0,630.0 857.7,638.0 891.4,641.0 925.0,641.0 936.8,651.0 992.3,654.4 1002.4,626.0 1010.0,629.0 1016.8,647.6 1042.0,641.0 1058.9,651.0 1084.0,657.7 1100.9,664.5 1126.0,671.0 1151.4,657.7 1168.2,647.6 1185.0,641.0 1210.0,630.8 1223.7,641.0 1243.9,644.3 1270.0,630.0 1270.0,760.0 746.5,760.0"/>
</g>
<g filter="url(#fRw)" fill="#FF84E2">
<polygon points="700.0,706.0 725.0,690.0 746.3,690.0 746.3,700.0 742.0,720.0 745.0,748.0 730.0,752.0 718.0,735.0 708.0,718.0"/>
</g>
<g filter="url(#fP1)" fill="#FFB0DA">
<polygon points="745.0,748.0 735.0,730.0 722.0,710.0 711.0,690.0 712.0,684.0 746.3,684.0 746.5,676.0 750.5,674.0 775.7,662.0 801.0,651.0 834.5,647.5 868.0,646.0 901.8,647.5 932.0,657.0 969.0,663.6 992.6,662.0 1000.0,662.0 1016.8,677.0 1050.5,681.0 1084.0,680.0 1117.7,685.0 1151.4,680.0 1185.0,672.0 1201.8,664.0 1230.0,652.0 1230.0,780.0 745.0,780.0"/>
</g>
<g filter="url(#fB)" fill="#84200E">
<polygon points="716.0,745.0 738.0,745.0 741.0,738.0 757.0,733.0 759.6,727.8 754.0,717.0 735.0,710.0 730.0,701.0 724.6,686.0 743.4,690.0 762.0,694.0 771.7,701.0 774.4,713.0 778.4,723.8 794.0,727.5 801.0,737.6 817.7,746.0 834.5,742.7 848.0,734.3 846.0,729.0 839.6,725.0 828.0,722.0 814.0,718.0 813.0,714.0 826.0,711.5 838.0,710.5 848.0,709.0 838.0,706.5 820.0,700.0 805.0,693.0 793.0,687.0 794.0,683.5 806.0,684.0 820.0,686.5 835.0,691.5 845.0,695.0 851.4,694.0 859.8,680.5 868.2,678.8 878.3,670.4 869.9,667.0 861.5,660.3 868.2,653.5 880.0,653.5 881.6,663.6 885.0,670.4 891.7,680.5 893.4,692.2 910.2,693.9 927.0,693.9 935.5,697.3 942.2,687.2 948.9,682.0 969.0,682.0 977.5,692.2 982.5,678.8 996.0,678.8 990.9,697.3 1002.7,700.6 1015.0,692.0 1021.9,700.5 1043.7,698.9 1055.5,702.2 1075.7,702.2 1090.8,705.6 1097.5,698.9 1107.6,702.2 1114.4,695.5 1131.2,697.2 1143.0,688.8 1151.4,697.2 1164.8,702.2 1171.5,695.5 1159.8,690.5 1176.6,688.8 1178.3,678.7 1185.0,675.3 1206.9,673.6 1225.0,665.0 1245.0,660.0 1245.0,900.0 716.0,900.0"/>
</g>
<g filter="url(#fB)" fill="#9C4432">
<polygon points="722.0,750.0 742.0,745.0 760.0,738.0 765.0,728.0 760.0,718.0 742.0,708.0 741.0,697.0 755.0,698.0 770.0,704.0 771.7,714.0 776.0,728.0 790.0,735.0 800.0,744.0 818.0,752.0 836.0,750.0 850.0,742.0 853.0,725.0 865.0,712.0 880.0,705.0 900.0,704.0 920.0,706.0 936.0,712.0 945.0,710.0 955.0,712.0 969.0,712.0 985.0,714.0 1000.0,714.0 1026.9,710.6 1055.5,719.0 1072.3,712.3 1100.9,712.3 1124.5,712.3 1134.5,714.0 1159.8,710.6 1176.6,703.9 1193.4,714.0 1210.0,714.0 1245.0,712.0 1245.0,900.0 722.0,900.0"/>
</g>
<g filter="url(#fB)" fill="#B56A5C">
<polygon points="725.0,754.0 745.0,750.0 765.0,742.0 775.0,737.0 788.0,742.0 798.0,750.0 818.0,758.0 838.0,757.0 855.0,750.0 862.0,735.0 872.0,722.0 885.0,717.0 905.0,718.0 925.0,722.0 940.0,728.0 955.0,730.0 969.0,728.0 985.0,732.0 1000.0,730.0 1015.0,735.0 1030.0,730.0 1055.0,735.0 1120.0,750.0 1151.4,734.2 1168.2,727.5 1185.0,729.0 1198.5,720.7 1210.0,716.0 1245.0,714.0 1245.0,900.0 725.0,900.0"/>
</g>
<g filter="url(#fB)" fill="#CC9288">
<polygon points="730.0,757.0 750.0,754.0 770.0,745.0 790.0,748.0 800.0,757.0 818.0,764.0 838.0,763.0 856.0,757.0 866.0,745.0 876.0,735.0 888.0,731.0 905.0,733.0 925.0,738.0 940.0,745.0 960.0,748.0 975.0,742.0 990.0,738.0 1010.0,740.0 1030.0,745.0 1040.0,760.0 1160.0,765.0 1171.5,754.4 1185.0,744.3 1201.8,734.2 1212.0,728.0 1245.0,726.0 1245.0,900.0 730.0,900.0"/>
</g>
<g filter="url(#fB)" fill="#E8B8B0">
<polygon points="780.0,750.0 785.0,752.0 795.0,757.0 805.0,768.0 820.0,772.0 840.0,770.0 858.0,766.0 868.0,765.0 876.0,771.0 885.0,785.0 1000.0,800.0 1170.0,782.0 1176.6,774.5 1193.4,761.0 1206.9,757.7 1216.0,755.0 1245.0,753.0 1245.0,900.0 780.0,900.0"/>
</g>
<g filter="url(#fBw)" fill="#9C4432">
<polygon points="490.0,562.0 496.0,556.0 505.0,554.0 513.0,557.0 514.0,568.0 510.0,578.0 503.0,586.0 496.0,584.0 490.0,578.0 487.0,570.0"/>
</g>
<g filter="url(#fBw)" fill="#84200E">
<polygon points="724.6,686.0 743.4,689.0 762.0,693.0 771.7,700.0 775.0,713.0 779.0,725.0 770.0,732.0 759.6,729.0 754.0,719.0 735.0,712.0 729.0,701.0"/>
<polygon points="455.0,598.0 465.0,596.0 478.0,600.0 490.0,604.0 500.0,606.0 503.0,615.0 506.0,625.0 500.0,640.0 492.0,642.0 480.0,638.0 470.0,630.0 462.0,620.0 456.0,608.0"/>
<polygon points="503.0,604.0 512.0,606.0 521.0,611.0 530.0,617.0 538.0,624.0 550.0,629.0 563.0,634.0 572.0,641.0 580.0,648.0 588.6,657.7 585.0,665.0 582.0,671.0 585.0,683.0 577.0,690.0 576.0,701.0 498.8,667.5 503.8,660.0 501.3,650.0 505.0,635.0 511.3,625.0 507.5,620.0 503.8,612.5"/>
<polygon points="441.0,566.0 445.0,564.0 451.0,580.0 449.0,590.0 445.0,588.0 443.0,576.0"/>
</g>
<g filter="url(#fBw)" fill="#9C4432">
<polygon points="741.0,697.0 755.0,698.0 769.0,704.0 771.0,714.0 766.0,724.0 760.0,720.0 744.0,709.0"/>
<polygon points="458.0,601.0 466.0,599.0 478.0,603.0 490.0,607.0 499.0,609.0 501.0,616.0 503.0,625.0 498.0,638.0 491.0,639.0 481.0,635.0 472.0,628.0 465.0,619.0 459.0,609.0"/>
<polygon points="505.0,607.0 512.0,609.0 521.0,614.0 530.0,620.0 538.0,627.0 550.0,632.0 563.0,637.0 572.0,644.0 579.0,650.0 586.0,658.7 583.0,665.0 580.0,671.0 583.0,683.0 575.0,690.0 574.0,699.0 501.0,667.0 506.0,660.0 504.0,650.0 508.0,635.0 514.0,625.0 510.0,620.0 506.0,613.0"/>
</g>
<g filter="url(#fBw)" fill="#B56A5C">
<polygon points="450.0,560.0 455.0,557.0 462.0,570.0 466.0,584.0 461.0,586.0 455.0,574.0"/>
<polygon points="492.0,563.0 497.0,559.0 505.0,557.0 510.0,560.0 511.0,568.0 507.0,576.0 502.0,582.0 497.0,580.0 492.0,575.0"/>
<polygon points="462.0,606.0 470.0,604.0 480.0,608.0 490.0,611.0 497.0,613.0 499.0,620.0 500.0,626.0 496.0,636.0 490.0,637.0 482.0,633.0 474.0,626.0 468.0,619.0 463.0,611.0"/>
<polygon points="508.0,612.0 514.0,613.0 521.0,618.0 530.0,624.0 538.0,631.0 550.0,636.0 563.0,641.0 572.0,648.0 577.0,653.0 583.0,660.0 581.0,665.0 578.0,671.0 581.0,683.0 573.0,690.0 572.0,697.0 504.0,666.0 508.0,660.0 506.0,650.0 510.0,635.0 516.0,625.0 512.0,620.0 509.0,616.0"/>
</g>
<g filter="url(#fBw)" fill="#CC9288">
<polygon points="496.0,564.0 501.0,561.0 506.0,563.0 505.0,570.0 500.0,574.0 496.0,571.0"/>
<polygon points="511.0,622.0 520.0,626.0 530.0,632.0 540.0,640.0 552.0,644.0 565.0,648.0 572.0,654.0 578.0,662.0 574.0,668.0 570.0,660.0 560.0,655.0 548.0,656.0 546.0,672.0 552.0,686.0 563.0,692.0 571.0,694.0 570.0,696.0 506.0,665.0 510.0,660.0 508.0,650.0 512.0,636.0 517.0,628.0"/>
</g>
<g filter="url(#fBw)" fill="#E8B8B0">
<polygon points="512.0,632.0 522.0,634.0 532.0,640.0 542.0,648.0 548.0,656.0 546.0,672.0 550.0,684.0 540.0,682.0 507.0,664.0 511.0,658.0 509.0,650.0 513.0,640.0"/>
<polygon points="462.0,634.0 475.0,640.0 490.0,645.0 503.0,645.0 502.0,660.0 498.0,665.0 480.0,666.0 466.0,667.0 462.0,655.0 460.0,645.0"/>
</g>
<g filter="url(#fB)" fill="#FA3232">
<polygon points="808.0,770.0 815.0,766.0 825.0,772.0 835.0,778.0 845.0,785.0 855.0,790.0 866.0,793.0 862.0,808.0 868.0,840.0 850.0,835.0 835.0,825.0 825.0,812.0 818.0,795.0 812.0,780.0"/>
<polygon points="1176.0,800.0 1182.0,785.0 1190.0,776.0 1200.0,770.0 1207.0,772.0 1212.0,778.0 1218.0,790.0 1224.0,805.0 1232.0,830.0 1232.0,860.0 1210.0,866.0 1195.0,840.0 1185.0,822.0 1178.0,808.0"/>
</g>
<g filter="url(#fBw)" fill="#FA3232">
<polygon points="472.0,616.0 485.0,614.0 497.0,620.0 503.0,630.0 500.0,642.0 492.0,648.0 484.0,640.0 476.0,630.0"/>
<polygon points="461.0,634.0 470.0,636.0 476.0,646.0 470.0,648.0 463.0,642.0"/>
<polygon points="548.0,639.0 556.0,638.0 563.0,642.0 562.0,650.0 555.0,653.0 549.0,648.0"/>
<polygon points="520.0,658.0 528.0,658.0 530.0,666.0 527.0,671.0 521.0,668.0"/>
<polygon points="499.5,660.0 506.0,658.0 512.0,664.0 513.0,674.0 505.0,671.0 499.0,668.0"/>
</g>
<g filter="url(#fBw)" fill="#E8B8B0">
<polygon points="1204.0,790.0 1208.0,782.0 1214.0,786.0 1218.0,797.0 1216.0,806.0 1210.0,804.0 1206.0,797.0"/>
<polygon points="1182.0,796.0 1188.0,794.0 1191.0,802.0 1188.0,808.0 1183.0,806.0"/>
</g>
<g filter="url(#fB)" fill="#F56565">
<polygon points="825.0,800.0 845.0,808.0 866.0,820.0 870.0,845.0 850.0,838.0 835.0,826.0 828.0,812.0"/>
<polygon points="1186.0,815.0 1205.0,818.0 1227.0,820.0 1233.0,830.0 1233.0,866.0 1205.0,866.0 1196.0,842.0 1190.0,830.0"/>
</g>
<g filter="url(#fB)" fill="#F49999">
<polygon points="830.0,822.0 850.0,830.0 868.0,835.0 872.0,846.0 845.0,844.0 832.0,834.0"/>
<polygon points="1196.0,838.0 1215.0,840.0 1231.0,846.0 1232.0,868.0 1205.0,868.0 1200.0,850.0"/>
</g>
<g filter="url(#fBw)" fill="#4D4D4D">
<polygon points="452.0,563.0 453.5,562.5 456.0,572.0 456.5,577.0 455.0,577.0 453.0,570.0"/>
</g>
<g filter="url(#fBw)" fill="#F4CCCC">
<polygon points="1221.0,838.0 1227.0,837.0 1229.0,846.0 1222.0,847.0"/>
</g>
</g>
<path d="M1226,860 L1222,866 L1211,874 L1200,877 L1185,880" fill="none" stroke="#FFD78C" stroke-width="3" stroke-dasharray="13 2"/>
<polyline points="517,558 522,566 527,576 533,570 538,566 543,567 549,573 555,572 559,577 561,570 561,564 565,556 570,553 575,554 580,550" fill="none" stroke="#FF58EC" stroke-width="1.3" clip-path="url(#us)"/>
<rect x="1169" y="877" width="3" height="2.5" fill="#FFD78C"/>
<filter id="wig" x="-2%" y="-2%" width="104%" height="104%"><feTurbulence type="fractalNoise" baseFrequency="0.085" numOctaves="1" seed="9"/><feDisplacementMap in="SourceGraphic" scale="8" xChannelSelector="R" yChannelSelector="G"/></filter>
<g fill="none" stroke="#000" stroke-width="4" stroke-linejoin="round" stroke-linecap="round">
<polyline points="330.0,235.5 911.3,235.5 911.3,226.3 920.0,226.3"/>
<polyline points="451.3,235.5 451.3,305.0 452.5,311.0 456.0,315.0 460.0,318.5 463.0,323.8 459.0,333.0 455.0,342.0 450.0,350.0 446.3,357.5 448.0,361.5 453.8,363.8 453.0,368.0 451.3,372.5 451.3,420.0"/>
<polyline points="298.8,420.0 577.0,420.0"/>
<polyline points="577.0,340.8 577.0,446.0"/>
<polyline points="577.0,340.8 724.7,340.8"/>
<polyline points="724.7,235.5 724.7,446.0"/>
<polyline points="577.0,446.0 766.8,446.0"/>
<polyline points="724.7,316.3 882.5,316.3"/>
<polyline points="724.7,393.8 841.3,393.8"/>
<polyline points="388.3,420.0 388.3,499.5 500.0,602.5"/>
<polyline points="513.8,420.0 513.8,575.0 512.0,578.0 510.0,578.8 505.0,577.0 500.0,576.3 498.5,583.0 498.8,590.0 500.0,596.0 500.5,602.5"/>
<polyline points="448.8,668.8 498.8,664.5"/>
<polyline points="498.8,667.5 576.3,701.3 637.5,701.3 637.5,688.8 670.0,688.8 670.0,683.8"/>
<polyline points="513.8,551.3 923.5,551.3"/>
<polyline points="619.2,446.0 619.2,701.3"/>
<polyline points="766.8,446.0 766.8,551.3"/>
<polyline points="766.8,472.5 906.3,472.5"/>
<polyline points="746.2,551.3 746.2,683.5"/>
<polyline points="670.0,683.5 746.2,683.5"/>
<polyline points="746.3,564.9 809.8,564.9 809.8,616.5"/>
<polyline points="935.0,641.3 935.0,685.0"/>
<polyline points="885.0,332.5 885.0,380.0"/>
<polyline points="881.3,380.0 995.0,380.0"/>
<polyline points="923.8,495.0 923.8,564.5 924.5,585.0 926.3,607.5 926.3,640.0"/>
<polyline points="902.5,457.0 987.5,457.0 990.0,461.3"/>
<polyline points="923.8,564.5 1015.0,564.5"/>
<polyline points="1092.5,425.0 1130.0,426.0 1157.5,428.3"/>
<polyline points="1007.5,407.0 1066.0,407.0"/>
<polyline points="1072.5,428.0 1072.5,482.5"/>
<polyline points="1130.0,426.0 1130.0,505.0"/>
<polyline points="986.3,708.8 1023.8,708.8"/>
<polyline points="1036.0,564.5 1062.5,564.5 1063.0,561.3 1195.0,561.5 1196.0,563.6 1315.0,563.6"/>
<polyline points="1015.0,605.0 1170.0,605.5"/>
<polyline points="1167.5,606.0 1170.0,600.5 1176.0,599.5 1182.5,598.8 1194.0,599.0 1205.0,600.0 1208.5,604.5 1212.5,608.8 1226.0,609.5 1240.0,610.0 1251.0,622.0 1262.5,635.0"/>
<polyline points="1060.0,605.0 1058.0,650.0 1053.7,716.0 1054.5,727.5"/>
<polyline points="1072.5,727.5 1075.0,721.3 1073.5,716.0 1071.5,710.5 1069.5,708.6 1127.5,708.6"/>
<polyline points="1127.5,709.0 1128.7,714.5 1185.0,722.5 1186.3,726.3 1190.0,725.0 1190.0,716.3 1202.5,716.3"/>
<polyline points="935.0,657.2 995.0,657.2"/>
<polyline points="1340.0,340.0 1411.3,339.5"/>
<polyline points="1236.3,415.0 1236.3,419.8 1330.0,419.8"/>
<polyline points="1220.8,420.0 1220.8,480.0 1322.5,480.0"/>
<polyline points="1336.3,505.0 1336.3,513.8 1322.5,513.8 1322.5,481.0"/>
<polyline points="1342.5,438.8 1361.3,448.8"/>
<polyline points="1418.8,333.8 1420.0,355.0 1422.5,385.0 1425.0,395.0"/>
<polyline points="1373.8,400.5 1413.8,400.8 1419.0,398.5 1423.8,396.3"/>
<polyline points="1367.5,418.8 1412.5,419.3 1413.5,425.0 1415.0,430.0"/>
<polyline points="1405.0,419.0 1405.0,435.0"/>
</g>
<g fill="none" stroke="#000" stroke-width="4.9" stroke-linejoin="round" stroke-linecap="round" filter="url(#wig)">
<polyline points="920.0,226.3 922.5,241.3 931.0,243.0 940.0,247.5 947.0,245.0 955.0,244.5 962.0,245.5 967.5,248.8 972.5,254.5 980.0,253.8 985.0,257.0 990.0,260.0 996.0,257.0 1002.5,255.0 1007.5,258.0 1020.0,259.5 1032.5,261.3"/>
<polyline points="330.5,235.7 331.6,239.6 337.2,241.8"/>
<polyline points="289.5,251.5 296.0,253.5 302.4,255.8 313.6,258.0 323.7,258.0 329.3,262.0"/>
<polyline points="289.5,252.0 289.0,258.0 290.0,262.5 295.0,268.8 297.5,276.0 300.0,282.5 302.0,288.0 303.8,290.0 308.8,288.8 304.0,292.5 303.8,296.0 307.5,296.3 305.0,301.0 304.5,305.0 305.0,308.8 306.3,313.8 307.0,320.0 307.5,327.5 306.0,340.0 303.8,355.0 302.0,366.0 300.0,377.5 296.0,388.0 292.5,397.5 296.3,405.0 296.3,412.5 298.8,420.0 303.8,432.5 301.3,443.8 297.0,452.0 295.0,460.0 297.5,467.5 303.0,473.0 307.5,478.8 309.0,488.0 311.3,497.5 315.0,504.0 320.0,510.0 324.0,517.0 327.5,522.5 333.0,525.0 336.3,526.3 338.0,532.0 338.8,537.5 339.0,543.0 340.0,547.5 345.0,552.0 350.0,556.3 351.0,562.0 350.0,568.8 354.0,575.0 358.8,580.0 364.0,588.0 370.0,595.0 373.0,600.0 375.0,605.0 376.5,611.0 377.5,616.3 386.0,618.0 395.0,620.0 401.0,623.5 407.5,627.5 414.0,629.0 420.0,631.3 425.0,635.0 432.5,642.5 439.0,648.0 445.0,655.0 447.5,662.0 448.8,668.8"/>
<polyline points="305.0,308.8 312.0,309.0 320.0,309.5 325.0,312.0 328.8,315.0 329.5,320.0 330.0,323.8 335.0,326.5 340.0,327.0 345.0,324.5 350.0,322.5 357.0,324.0 363.8,325.0 370.0,323.0 377.5,322.5 386.0,319.5 395.0,317.0 402.0,315.0 410.0,314.5 430.0,314.2 451.3,314.0"/>
<polyline points="472.0,235.5 472.0,262.5 475.0,268.0 477.5,275.0 482.0,279.0 487.5,282.5 492.0,288.0 497.5,295.0 502.0,297.0 507.5,297.5 506.0,306.0 503.8,315.0 503.5,321.0 502.5,326.3 505.0,329.0 508.8,328.8 512.5,325.0 516.3,322.5 519.0,327.0 522.5,332.5 525.0,338.0 527.5,343.8 530.0,346.5 532.5,347.5 534.5,352.0 536.3,356.3 540.0,357.5 545.0,353.8 556.0,353.0 567.5,352.5 570.0,347.5 573.0,350.0 575.5,353.8 577.0,356.0"/>
<polyline points="841.3,393.8 846.0,396.0 852.5,400.0 860.0,398.0 867.5,397.5 874.0,399.5 881.3,402.5"/>
<polyline points="500.0,602.5 501.3,605.0 503.8,612.5 507.5,620.0 511.3,625.0 508.0,630.0 505.0,635.0 503.0,642.0 501.3,650.0 502.5,655.0 503.8,660.0 501.0,664.0 498.8,667.5"/>
<polyline points="810.5,617.5 815.0,620.5 820.0,620.0 825.0,623.8 832.5,626.3 840.0,629.0 850.0,630.0 855.0,632.5 862.0,635.0 870.0,636.3 878.0,638.0 887.5,637.5 895.0,635.0 902.5,632.5 908.0,633.0 915.0,635.0 920.0,636.3 926.3,640.0 935.0,641.3"/>
<polyline points="935.0,685.0 937.5,690.0 940.0,695.0 942.0,701.0 943.8,707.5 943.0,714.0 942.5,720.0 943.8,728.7 942.0,734.0 940.5,739.0 938.8,742.5"/>
<polyline points="670.0,683.8 675.0,690.0 681.0,698.0 687.5,705.0 694.0,711.0 700.0,716.3 705.0,723.0 710.0,730.0 712.5,739.0 715.0,747.5 720.0,751.5 725.0,755.0 731.0,759.0 737.5,762.5 742.0,762.0 745.0,760.0 747.5,755.0 750.0,750.0 753.5,746.0 757.5,742.5 765.0,741.0 772.5,740.0 778.0,742.0 782.5,745.0 787.5,751.0 792.5,757.5 796.0,765.0 800.0,772.5 804.0,780.0 807.5,785.0 813.0,794.0 820.0,802.5 821.5,809.0 822.5,815.0 826.0,823.0 830.0,831.3 837.0,835.0 845.0,838.8 852.0,841.0 860.0,842.5 868.8,842.5"/>
<polyline points="868.8,842.5 866.5,832.0 864.0,822.0 862.0,816.0 860.4,810.3 857.0,808.0 856.0,803.5 859.5,802.0 862.0,798.5 863.3,795.8 861.9,791.4 865.0,787.5 868.4,784.0 872.5,780.5 876.4,776.8 879.0,775.0 880.0,771.0 884.0,772.5 887.5,769.5 891.0,769.5 896.0,768.0 901.0,766.6 905.5,764.0 910.0,760.8 913.0,756.5 915.8,752.0 914.5,747.0 916.5,742.5 919.5,744.0 920.0,748.5 923.0,749.5 927.4,746.2 933.0,744.0 938.8,742.5"/>
<polyline points="938.8,742.5 944.5,742.0 950.7,741.9 955.0,743.5 959.5,745.5 965.0,747.0 971.0,748.4 973.5,745.0 975.5,741.9 978.0,741.0 980.6,741.0 981.5,744.0 982.8,747.0 987.0,748.0 991.5,749.0 994.5,752.5 997.3,756.4 1000.0,758.5 1003.2,760.0 1005.5,757.0 1007.5,755.0 1011.0,755.2 1014.8,755.7 1019.2,757.9 1020.5,753.0 1022.0,749.0 1025.0,750.0 1028.0,751.3 1031.0,757.5 1033.8,763.7 1037.5,761.5 1041.0,758.6 1037.5,755.5 1033.8,752.8 1031.5,750.0 1029.4,747.7 1032.0,744.0 1035.2,740.4 1036.5,737.0 1038.0,733.0 1034.0,731.5 1030.0,730.0 1036.0,727.0 1042.5,725.0 1049.0,726.0 1055.0,727.5 1059.0,729.0 1062.5,730.0 1062.0,722.0 1062.5,715.0 1064.0,722.0 1065.0,730.0 1069.0,729.0 1072.5,727.5"/>
<polyline points="1072.5,727.5 1080.0,726.0 1087.5,725.0 1095.0,725.5 1102.5,726.3 1108.0,729.0 1112.5,732.5 1115.5,738.0 1117.5,743.8 1123.0,742.5 1130.0,740.0 1136.0,737.0 1142.5,735.0 1149.0,737.0 1155.0,740.0 1160.0,747.0 1165.0,755.0 1170.0,762.0 1173.8,767.5 1175.5,775.0 1175.0,782.5 1174.0,789.0 1173.8,795.0 1175.5,803.0 1177.5,810.0 1181.0,818.0 1185.0,825.0 1188.5,830.0 1192.5,835.0 1197.5,844.0 1202.5,852.5 1206.0,858.5 1208.8,863.8 1213.0,864.0 1217.5,862.5 1222.0,859.5 1226.3,855.0 1228.5,848.0 1230.0,840.0 1231.0,828.0 1231.3,815.0 1228.5,805.0 1225.0,795.0 1221.5,784.0 1217.5,772.5 1214.0,762.0 1210.0,752.5 1207.0,746.0 1205.0,740.0 1203.5,728.0 1202.5,716.3"/>
<polyline points="1202.5,716.3 1203.5,708.0 1205.0,700.0 1208.5,689.0 1212.5,677.5 1217.5,670.0 1224.0,666.0 1230.0,662.5 1239.0,657.5 1247.5,652.5 1250.5,647.0 1252.5,642.5 1260.0,637.0 1267.5,632.5 1274.0,631.0 1280.0,630.0 1285.0,625.0 1290.0,620.0 1297.0,617.5 1305.0,615.0 1309.0,611.0 1312.5,607.5 1319.0,602.5 1325.0,597.5 1326.0,591.0 1326.3,585.0 1324.5,580.0 1322.5,575.0 1318.5,569.0 1315.0,563.8 1316.0,557.0 1316.3,550.0"/>
<polyline points="868.8,235.5 869.0,247.0 870.0,257.5 873.0,266.0 876.3,275.0 877.5,286.0 878.8,297.5 880.5,306.0 882.5,315.0 880.0,320.0 876.3,323.8 880.0,328.0 885.0,332.5"/>
<polyline points="881.3,380.0 883.5,385.0 882.5,390.0 880.5,395.5 881.3,402.5"/>
<polyline points="881.3,402.5 884.0,409.0 887.5,415.0 889.5,421.0 891.3,427.0 894.0,433.0 896.3,437.5 897.5,445.0 898.8,452.5 902.5,457.5 904.5,463.0 906.3,468.8 910.5,471.5 915.0,473.8 917.5,478.8 914.5,480.5 912.5,482.5 916.0,487.5 920.0,492.5 923.8,495.0"/>
<polyline points="1015.0,564.5 1018.8,570.0 1016.0,574.0 1012.5,578.0 1025.0,577.0"/>
<polyline points="972.5,296.3 972.5,312.5 966.0,316.5 960.0,320.0 958.8,325.0 961.0,328.0 963.8,330.0 962.5,339.0 961.3,347.5 965.0,351.5 970.0,355.0 975.0,357.5 980.0,360.0 987.0,365.5 993.8,371.3 995.0,380.0"/>
<polyline points="1032.5,261.3 1024.0,264.0 1015.0,267.5 1008.0,271.0 1002.5,275.0 997.0,279.5 992.5,283.8 982.0,290.0 972.5,296.3 982.0,294.5 992.5,293.0 998.0,291.5 1002.5,290.0 1003.5,294.0 1002.5,298.8 1008.0,298.0 1012.5,297.5 1020.0,295.0 1027.5,292.5 1035.0,288.5 1042.5,285.0 1049.0,281.0 1055.0,277.5 1062.0,276.0 1068.8,275.8 1066.0,278.5 1062.5,281.3 1058.0,285.0 1053.8,288.8 1053.0,292.0 1052.5,295.0 1056.0,292.5 1060.0,290.0 1065.0,291.5 1070.0,293.8 1074.0,297.5 1077.5,301.3 1084.0,302.5 1090.0,303.0 1096.0,300.5 1102.5,297.5 1115.0,296.0 1127.5,294.5 1128.0,298.5 1128.8,302.5 1135.0,302.5 1142.5,303.0 1145.5,309.0 1148.8,315.0 1140.0,315.0 1132.5,315.0 1126.0,313.5 1120.0,312.5 1111.0,313.5 1102.5,315.0 1097.0,317.0 1092.5,318.8 1092.0,321.5 1091.3,323.8 1088.0,320.0 1085.0,317.5 1081.0,322.5 1077.5,327.5 1075.0,333.0 1072.5,338.8"/>
<polyline points="1012.5,297.5 1015.0,301.3 1020.0,306.3 1032.0,310.0 1045.0,313.8 1053.0,315.0 1060.0,316.3 1063.5,321.0 1066.3,326.3 1067.5,331.0 1068.8,335.0 1072.5,338.8"/>
<polyline points="1072.5,338.8 1067.0,346.0 1062.5,352.5 1066.0,349.0 1072.0,342.5 1078.0,336.5 1082.5,333.8 1080.0,342.0 1077.0,350.0 1075.0,355.0 1071.5,365.0 1068.8,375.0 1066.5,383.0 1065.0,390.0 1066.0,399.0 1067.5,407.5 1069.5,417.0 1072.5,427.5 1077.5,429.0 1082.5,428.8 1088.0,426.5 1092.5,422.5 1097.0,414.0 1100.0,405.0 1099.5,397.0 1098.8,390.0 1096.0,382.0 1093.8,375.0 1094.0,368.0 1095.0,362.5 1097.5,355.0 1100.0,347.5 1106.0,342.0 1112.5,337.5 1116.0,335.0 1120.0,332.5 1124.0,331.0 1127.5,330.0 1127.0,325.5 1126.3,321.3 1128.5,318.5 1130.0,316.3"/>
<polyline points="1130.0,316.3 1137.5,320.0 1145.0,323.8 1151.0,327.0 1156.3,330.0 1160.0,335.0 1162.5,340.0 1161.5,349.0 1160.0,357.5 1155.0,363.0 1150.0,367.5 1149.0,371.5 1148.8,375.0 1151.0,377.5 1153.8,378.8 1158.0,373.0 1162.5,367.5 1166.5,366.0 1170.0,365.0 1173.5,367.5 1176.3,371.3 1178.5,382.0 1180.0,392.5 1178.0,399.0 1175.0,405.0 1171.0,409.0 1167.5,412.5 1165.0,417.5 1162.5,422.5 1160.0,426.0 1157.5,428.8"/>
<polyline points="1072.5,482.5 1070.0,493.8 1071.3,506.3 1067.5,512.5 1063.8,518.8 1061.5,524.0 1060.0,528.8"/>
<polyline points="995.0,380.0 996.0,385.0 997.5,390.0 1000.0,395.5 1002.5,401.3 1005.0,404.5 1007.5,407.0 1012.0,411.0 1016.3,415.0 1017.0,419.0 1017.5,422.5 1014.0,427.5 1010.0,432.5 1004.0,434.5 998.8,435.0 1000.0,440.0 1001.3,445.0 998.0,449.0 995.0,452.5 991.0,456.5 988.8,460.0 989.0,466.0 990.0,472.5 995.0,479.5 1000.0,486.3 1004.0,493.0 1007.5,500.0 1012.0,501.5 1016.3,502.5 1015.5,508.0 1015.0,513.8 1012.5,518.8 1017.5,523.0 1022.5,527.5 1026.0,531.0 1030.0,535.0 1031.5,541.0 1032.5,547.5 1038.8,552.5 1040.0,560.0 1036.0,563.0 1032.5,565.0 1029.0,571.0 1026.3,577.5 1023.5,582.0 1021.3,586.3 1020.0,590.5 1018.8,595.0 1017.0,600.0 1015.0,605.0 1011.0,611.0 1007.5,617.5 1006.3,620.0 1001.5,625.0 997.5,630.0 996.0,635.0 995.0,640.0 997.5,644.0 1000.0,647.5 997.0,652.5 995.0,657.5 996.0,662.5 997.5,667.5 999.0,671.0 1000.0,675.0 997.0,679.0 995.0,682.5 992.5,689.0 990.0,695.0 988.0,702.0 986.3,708.8"/>
<polyline points="1023.8,708.8 1026.0,714.5 1027.5,720.0 1026.3,727.5 1030.0,730.0"/>
<polyline points="1038.8,552.5 1041.3,546.3 1047.0,548.5 1052.5,550.0 1053.0,546.0 1052.5,542.5 1056.5,539.0 1060.0,536.3 1060.0,528.8 1065.0,528.0 1070.0,527.5 1074.5,529.5 1078.8,531.3 1082.5,528.0 1086.3,525.0 1090.0,526.5 1093.8,527.5 1096.5,523.5 1098.8,520.0 1102.0,522.0 1105.0,523.8 1107.5,520.0 1110.0,516.3 1114.0,511.5 1117.5,507.5 1124.0,506.0 1130.0,505.0 1131.3,495.0 1135.5,499.0 1140.0,502.5 1146.0,505.0 1152.5,507.5 1157.5,508.5 1162.5,508.8 1166.5,507.5 1170.0,506.3 1174.0,510.0 1177.5,513.8 1180.0,510.5 1182.5,507.5 1185.5,503.5 1188.8,500.0 1193.0,496.0 1197.5,492.5 1202.5,490.0 1207.5,487.5 1211.5,481.0 1215.0,475.0 1216.5,466.0 1217.5,457.5 1219.0,451.0 1220.8,445.0"/>
<polyline points="1177.5,513.8 1176.3,522.5 1178.5,527.5 1181.3,532.5 1185.0,536.5 1188.8,540.0 1183.0,542.5 1177.5,545.0 1171.0,550.5 1165.0,556.3 1160.0,559.0 1155.0,561.3"/>
<polyline points="1188.8,540.0 1193.0,543.0 1197.5,545.0 1204.0,544.0 1210.0,542.5 1215.0,541.0 1220.0,538.8 1222.5,535.5 1225.0,532.5 1228.5,526.0 1232.5,520.0 1235.0,515.0 1238.5,510.0 1244.0,513.2 1250.8,504.3 1255.3,504.3 1259.0,499.5 1263.0,495.3 1264.8,487.4 1263.0,483.0 1267.6,485.2 1272.0,489.5 1276.6,494.2"/>
<polyline points="1195.0,563.8 1192.5,570.0 1186.0,573.5 1180.0,576.3 1175.0,579.0 1170.0,581.3 1163.5,586.0 1157.5,590.0 1152.5,592.5 1147.5,595.0 1143.5,599.5 1140.0,603.8 1140.0,605.3"/>
<polyline points="1167.5,606.0 1163.5,609.5 1162.5,612.5 1166.0,617.5 1170.0,622.5 1175.0,629.0 1180.0,635.0 1185.0,640.0 1190.0,646.0 1196.0,653.0 1202.5,660.0 1207.5,666.0 1212.5,672.5 1217.5,670.0"/>
<polyline points="1114.0,605.3 1117.0,620.0 1119.3,637.0 1122.0,652.0 1124.0,665.3 1127.1,677.9 1125.0,683.0 1124.0,687.3 1125.0,694.0 1125.6,700.0 1126.5,706.0 1127.5,711.0"/>
<polyline points="1011.5,730.5 1013.5,727.5 1017.5,726.0 1021.5,726.8 1024.3,729.5 1023.5,732.5 1020.0,734.3 1015.5,734.3 1012.5,733.0 1011.5,730.5"/>
<polyline points="1157.5,428.8 1163.0,430.5 1170.0,432.5 1176.0,434.5 1182.0,433.5 1188.0,431.5 1195.0,430.0 1207.0,425.0 1220.0,420.0 1228.0,417.5 1236.3,415.0 1244.0,408.5 1252.5,401.3 1255.0,396.3 1253.0,392.0 1251.3,387.5 1256.0,385.5 1262.5,384.5 1272.0,386.0 1282.5,387.0 1291.0,385.0 1300.0,382.5 1305.0,380.5 1310.0,377.5 1310.0,371.0 1308.8,365.0 1314.0,360.0 1320.0,355.0 1325.0,350.0 1330.0,345.0 1335.0,342.0 1340.0,340.0"/>
<polyline points="1330.0,419.8 1333.5,423.0 1336.3,426.3 1337.0,429.5 1337.5,432.5 1340.0,436.0 1342.5,438.8 1338.5,442.0 1335.0,445.0 1333.5,449.5 1332.5,453.8 1337.0,459.0 1341.3,463.8 1342.5,468.8 1338.5,472.0 1335.0,475.0 1330.0,477.0 1325.0,478.8 1322.5,482.0 1327.5,483.8 1329.0,489.0 1330.0,495.0 1333.0,500.0 1336.3,505.0"/>
<polyline points="1361.3,448.8 1357.0,454.0 1353.8,458.8 1357.0,460.0 1360.0,462.5 1359.0,469.0 1357.5,475.0 1355.0,481.0 1352.5,486.3 1348.0,492.0 1343.8,497.5 1341.0,500.0 1338.8,501.3 1337.0,498.0 1336.3,495.0 1333.0,492.5 1330.0,490.0 1328.5,486.0 1327.5,482.5"/>
<polyline points="1336.3,513.8 1334.5,520.0 1332.5,525.0 1328.5,530.0 1325.0,535.0 1322.5,540.0 1320.0,545.0 1318.0,548.0 1316.3,550.0 1317.5,543.0 1320.0,535.0 1322.5,530.0 1325.0,525.0 1321.0,521.0 1317.5,517.5 1315.5,514.0 1313.8,510.0 1314.5,505.0 1315.0,500.0 1313.5,495.0 1312.5,490.0 1314.5,486.5 1316.3,483.8"/>
<polyline points="1320.3,479.6 1314.7,485.2 1308.0,489.0 1302.4,491.9 1303.5,502.0 1302.4,512.1 1307.5,517.5 1310.0,522.5 1305.0,518.5 1300.0,515.0 1294.0,515.5 1287.8,516.6"/>
<polyline points="1287.8,516.6 1287.2,511.0 1291.2,507.6 1296.8,502.0 1294.5,498.6 1287.8,497.5 1285.6,493.0 1278.8,490.8 1276.6,494.2 1277.7,483.0 1270.0,481.5 1263.0,481.8 1258.6,483.0 1253.0,486.3 1247.0,490.5 1241.8,494.7 1241.8,479.8"/>
<polyline points="1310.0,522.5 1306.0,526.0 1303.0,531.0 1307.0,535.0 1311.0,538.0 1306.0,541.0 1302.0,546.0 1308.0,549.0 1313.0,552.0 1307.0,554.0 1310.0,558.0 1315.0,563.8"/>
<polyline points="1370.0,340.0 1371.3,355.0 1369.5,365.0 1371.3,377.5 1373.8,387.5 1373.8,400.5"/>
<polyline points="1373.8,400.5 1367.5,418.8 1366.3,442.5 1362.5,446.3"/>
<polyline points="1411.3,339.5 1408.8,352.5 1404.5,356.5 1400.0,360.0 1398.0,366.0 1396.3,372.5 1393.5,377.5 1391.3,382.5 1389.5,391.0 1387.5,400.5"/>
<polyline points="1411.3,339.5 1413.8,332.5 1418.8,333.8"/>
<polyline points="1418.8,333.8 1427.5,328.8 1431.5,322.0 1435.0,315.0 1438.0,305.0 1441.3,295.0 1450.0,285.0 1458.8,275.8 1462.5,281.3 1470.0,279.0 1477.5,277.5 1483.0,281.5 1488.8,286.3 1488.8,320.0 1492.5,322.5 1496.3,325.0 1497.5,335.0 1503.8,337.5 1505.0,346.3 1498.0,349.0 1492.5,351.3 1487.5,354.5 1482.5,357.5 1477.5,358.5 1472.5,358.8 1469.0,356.5 1466.3,355.0 1464.5,360.0 1462.5,365.0 1458.0,367.0 1453.8,368.8 1449.5,371.5 1445.0,373.8 1437.5,373.8 1434.0,379.5 1431.3,385.0 1428.0,390.0 1425.0,395.0 1423.8,401.3 1425.0,402.5 1422.0,407.5 1420.0,412.5 1422.5,415.0 1425.0,417.5 1428.0,421.5 1431.3,425.0 1434.0,426.5"/>
<polyline points="1366.3,442.5 1378.0,440.0 1392.0,437.5 1405.0,435.0 1410.0,433.0 1415.0,431.3 1419.0,428.5 1423.0,427.0"/>
<polyline points="1362.5,446.3 1375.0,445.0 1390.0,444.0 1402.5,441.5 1398.0,444.5 1385.0,449.0 1370.0,453.0 1357.5,457.5 1354.0,457.5 1358.0,452.0 1362.5,446.3"/>
</g>
<g fill="none" stroke="#000" stroke-width="5" stroke-linejoin="round" stroke-linecap="round">
<polyline points="1289.0,514.5 1294.0,516.0 1301.0,520.0 1309.0,523.5"/>
<polyline points="1295.7,525.6 1301.0,530.5 1306.9,536.8"/>
<polyline points="1297.9,537.9 1304.0,541.5 1310.2,545.7"/>
<polyline points="1294.5,545.7 1303.5,550.2 1314.7,554.7"/>
<polyline points="1298.0,572.0 1306.0,571.0 1314.0,574.0 1318.0,580.0"/>
<polyline points="1300.0,578.0 1308.0,581.0 1313.0,585.0"/>
<polyline points="1292.0,597.0 1300.0,595.0 1308.0,598.0 1312.0,603.0"/>
<polyline points="1295.0,604.0 1303.0,607.0 1306.0,611.0"/>
<polyline points="1304.0,489.0 1306.0,497.0 1305.0,506.0 1308.0,515.0 1311.0,524.0 1312.0,534.0 1313.0,544.0 1314.0,552.0"/>
<polyline points="1313.0,486.0 1303.5,492.0 1304.0,502.0 1303.0,511.0 1306.0,516.0"/>
<polyline points="1310.2,493.0 1308.5,504.3 1313.0,510.0"/>
</g>
<g fill="#000" stroke="#000" stroke-width="2.5" stroke-linejoin="round">
<polygon points="1431.0,425.5 1437.0,428.0 1443.5,428.5 1443.5,421.5 1441.0,417.5 1437.5,416.8 1440.0,420.5 1440.8,425.0 1436.0,425.0"/>
<polygon points="1425.0,437.0 1430.0,436.5 1430.0,439.0 1425.0,439.5"/>
<polygon points="1439.0,438.0 1444.0,437.5 1444.0,440.5 1439.0,440.5"/>
<polygon points="336.5,521.5 340.5,520.5 343.5,524.0 342.0,528.0 343.0,532.0 346.0,536.0 345.0,539.5 341.0,537.0 339.0,532.0 338.5,526.0"/>
<polygon points="915.5,742.0 917.5,740.5 920.0,742.0 921.5,745.5 921.0,749.0 918.5,750.0 916.0,748.5 917.5,746.0 916.0,744.5"/>
<polygon points="879.0,770.0 883.0,768.5 887.0,769.0 890.0,771.0 888.0,774.5 884.0,776.0 880.0,777.5 878.5,774.0"/>
<polygon points="855.5,803.0 858.0,801.5 861.5,803.0 861.5,808.0 860.0,810.5 857.0,809.5 856.5,806.0"/>
<polygon points="1026.0,729.5 1030.0,728.5 1034.0,731.0 1035.0,735.5 1032.0,739.0 1028.5,737.5 1029.0,733.5"/>
<polygon points="332.5,240.5 337.0,242.0 338.5,247.0 339.5,254.0 342.0,259.0 343.0,262.0 340.5,266.0 340.5,274.0 340.0,280.5 336.5,284.0 333.0,286.0 329.0,288.5 325.5,286.0 323.5,281.0 324.0,275.5 326.5,270.0 330.5,264.0 333.0,258.0 332.5,252.0 334.5,247.0"/>
<polygon points="323.0,246.0 326.0,243.5 330.0,244.0 331.0,247.0 329.5,250.0 326.5,251.0 323.5,249.5"/>
<polygon points="1113.5,339.0 1116.0,338.0 1116.5,344.0 1115.0,348.0 1113.0,346.0"/>
<polygon points="1172.0,787.0 1178.0,788.0 1181.5,792.0 1180.0,797.5 1176.0,799.0 1173.5,795.0 1172.5,791.0"/>
<polygon points="1182.0,816.0 1187.0,816.5 1188.5,820.0 1186.0,823.0 1183.0,821.0"/>
<polygon points="1205.5,859.0 1209.0,857.0 1212.5,860.0 1212.0,864.5 1208.0,865.5 1205.5,863.0"/>
</g>
<rect x="1549" y="407.20" width="26" height="25.74" fill="#4D4D4D"/>
<text class="lg" x="1585" y="427.37">excl.-sev.</text>
<rect x="1549" y="432.64" width="26" height="25.74" fill="#FFD78C"/>
<text class="lg" x="1585" y="452.81">Jun-29</text>
<rect x="1549" y="458.08" width="26" height="25.74" fill="#F4CCCC"/>
<text class="lg" x="1585" y="478.25">Jul-06</text>
<rect x="1549" y="483.52" width="26" height="25.74" fill="#F49999"/>
<text class="lg" x="1585" y="503.69">Jul-13</text>
<rect x="1549" y="508.96" width="26" height="25.74" fill="#F56565"/>
<text class="lg" x="1585" y="529.13">Jul-20</text>
<rect x="1549" y="534.40" width="26" height="25.74" fill="#FA3232"/>
<text class="lg" x="1585" y="554.57">Jul-27</text>
<rect x="1549" y="559.84" width="26" height="25.74" fill="#E8B8B0"/>
<text class="lg" x="1585" y="580.01">Aug-03</text>
<rect x="1549" y="585.28" width="26" height="25.74" fill="#CC9288"/>
<text class="lg" x="1585" y="605.45">Aug-10</text>
<rect x="1549" y="610.72" width="26" height="25.74" fill="#B56A5C"/>
<text class="lg" x="1585" y="630.89">Aug-17</text>
<rect x="1549" y="636.16" width="26" height="25.74" fill="#9C4432"/>
<text class="lg" x="1585" y="656.33">Aug-24</text>
<rect x="1549" y="661.60" width="26" height="25.74" fill="#84200E"/>
<text class="lg" x="1585" y="681.77">Aug-31</text>
<rect x="1549" y="687.04" width="26" height="25.74" fill="#FFB0DA"/>
<text class="lg" x="1585" y="707.21">Sep-07</text>
<rect x="1549" y="712.48" width="26" height="25.74" fill="#FF84E2"/>
<text class="lg" x="1585" y="732.65">Sep-14</text>
<rect x="1549" y="737.92" width="26" height="25.74" fill="#FF58EC"/>
<text class="lg" x="1585" y="758.09">Sep-21</text>
<rect x="1549" y="763.36" width="26" height="25.74" fill="#FF2CF6"/>
<text class="lg" x="1585" y="783.53">Sep-28</text>
<rect x="1697" y="407.20" width="26" height="25.74" fill="#E0C0E8"/>
<text class="lg" x="1733" y="427.37">Oct-05</text>
<rect x="1697" y="432.64" width="26" height="25.74" fill="#CC98D8"/>
<text class="lg" x="1733" y="452.81">Oct-12</text>
<rect x="1697" y="458.08" width="26" height="25.74" fill="#B870C8"/>
<text class="lg" x="1733" y="478.25">Oct-19</text>
<rect x="1697" y="483.52" width="26" height="25.74" fill="#A448B8"/>
<text class="lg" x="1733" y="503.69">Oct-26</text>
<rect x="1697" y="508.96" width="26" height="25.74" fill="#B4ECFC"/>
<text class="lg" x="1733" y="529.13">Nov-02</text>
<rect x="1697" y="534.40" width="26" height="25.74" fill="#88D4F0"/>
<text class="lg" x="1733" y="554.57">Nov-09</text>
<rect x="1697" y="559.84" width="26" height="25.74" fill="#5ABCE4"/>
<text class="lg" x="1733" y="580.01">Nov-16</text>
<rect x="1697" y="585.28" width="26" height="25.74" fill="#2CA4DC"/>
<text class="lg" x="1733" y="605.45">Nov-23</text>
<rect x="1697" y="610.72" width="26" height="25.74" fill="#0090D0"/>
<text class="lg" x="1733" y="630.89">Nov-30</text>
<rect x="1697" y="636.16" width="26" height="25.74" fill="#A0C4E8"/>
<text class="lg" x="1733" y="656.33">Dec-07</text>
<rect x="1697" y="661.60" width="26" height="25.74" fill="#7890E8"/>
<text class="lg" x="1733" y="681.77">Dec-14</text>
<rect x="1697" y="687.04" width="26" height="25.74" fill="#5060F0"/>
<text class="lg" x="1733" y="707.21">Dec-21</text>
<rect x="1697" y="712.48" width="26" height="25.74" fill="#2830F4"/>
<text class="lg" x="1733" y="732.65">Dec-29</text>
</svg>
</body></html>
